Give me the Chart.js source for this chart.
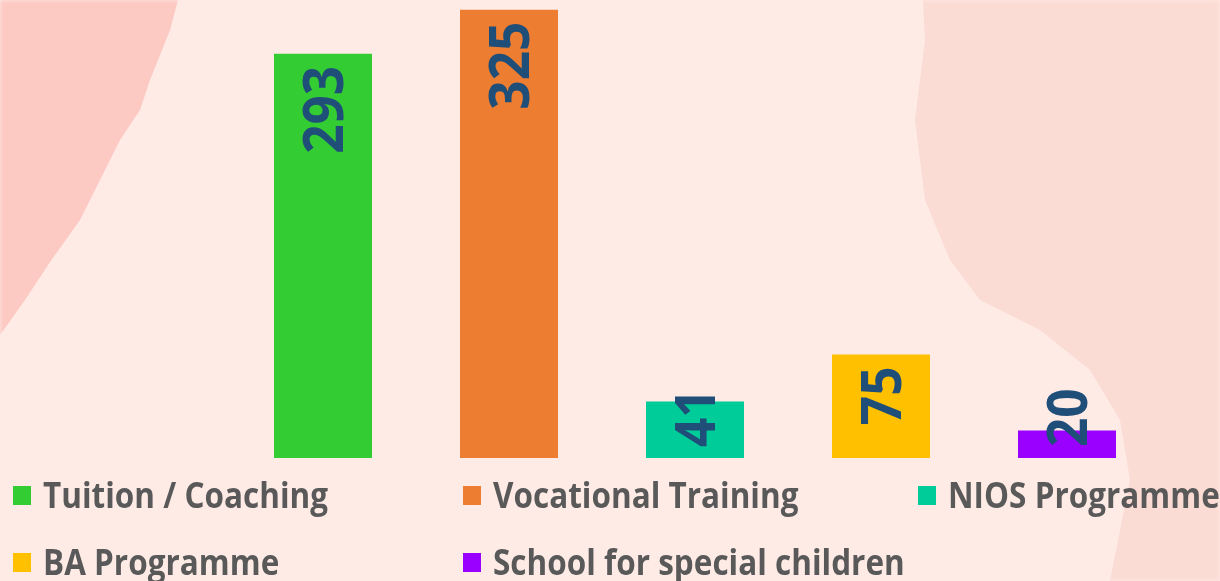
<!DOCTYPE html>
<html>
<head>
<meta charset="utf-8">
<script src="https://cdn.jsdelivr.net/npm/chart.js@4"></script>
<style>
  html, body { margin: 0; padding: 0; }
  body { width: 1220px; height: 581px; background: #FEEBE6; position: relative; overflow: hidden; }
  .brush { position: absolute; left: 0; top: 0; width: 1220px; height: 581px; filter: blur(2px); }
  #brushLeft { background: #FDC9C3; clip-path: polygon(0 0, 178px 0, 170px 30px, 150px 80px, 140px 110px, 120px 140px, 95px 190px, 80px 220px, 50px 262px, 25px 300px, 0 335px); }
  #brushRight { background: #FBDCD4; clip-path: polygon(923px 0, 1220px 0, 1220px 581px, 1110px 581px, 1130px 480px, 1120px 420px, 1090px 370px, 1040px 330px, 980px 300px, 950px 260px, 925px 200px, 915px 120px, 925px 40px); }
  #wrap { position: absolute; left: 0; top: 0; width: 1220px; height: 581px; }
</style>
</head>
<body>
<div class="brush" id="brushLeft"></div>
<div class="brush" id="brushRight"></div>
<div id="wrap"><canvas id="chart" width="1220" height="581"></canvas></div>
<script>
// ===== Dados =====
const categories = ["Tuition / Coaching", "Vocational Training", "NIOS Programme", "BA Programme", "School for special children"];
const values = [293, 325, 41, 75, 20];
const colors = ["#33CC33", "#ED7D31", "#00CC99", "#FFC000", "#9900FF"];

// legenda em grade: coluna x e linha (baseline)
const legendCols = [13, 463, 918];
const legendRows = [508, 575];

// ===== Rótulos rotacionados dentro das barras =====
const barLabels = {
  id: "barLabels",
  afterDatasetsDraw(chart) {
    const ctx = chart.ctx;
    const meta = chart.getDatasetMeta(0);
    ctx.save();
    ctx.font = "bold 56px 'Open Sans'";
    ctx.fillStyle = "#1F4E79";
    ctx.textBaseline = "alphabetic";
    ctx.textAlign = "left";
    const sx = 88 / ctx.measureText("293").width; // texto estreito como Calibri
    meta.data.forEach((bar, i) => {
      const txt = String(values[i]);
      const len = ctx.measureText(txt).width * sx;
      let top = bar.y + 12;
      let bottom = top + len;
      if (bottom > bar.base - 11) bottom = bar.base - 11;
      ctx.save();
      ctx.translate(bar.x, bottom);
      ctx.rotate(-Math.PI / 2);
      ctx.scale(sx, 1);
      ctx.fillText(txt, 0, 20);
      ctx.restore();
    });
    ctx.restore();
  }
};

// ===== Legenda desenhada no canvas =====
const gridLegend = {
  id: "gridLegend",
  afterDraw(chart) {
    const ctx = chart.ctx;
    ctx.save();
    ctx.font = "bold 35px 'Open Sans'";
    ctx.textBaseline = "alphabetic";
    const sx = 285 / ctx.measureText(categories[0]).width;
    categories.forEach((name, i) => {
      const x = legendCols[i % 3];
      const y = legendRows[Math.floor(i / 3)];
      ctx.fillStyle = colors[i];
      ctx.fillRect(x, y - 22, 18, 19);
      ctx.fillStyle = "#595959";
      ctx.save();
      ctx.translate(x + 30, y);
      ctx.scale(sx, 1);
      ctx.fillText(name, 0, 0);
      ctx.restore();
    });
    ctx.restore();
  }
};

new Chart(document.getElementById("chart"), {
  type: "bar",
  data: {
    labels: categories,
    datasets: [{ data: values, backgroundColor: colors, borderWidth: 0, categoryPercentage: 1, barPercentage: 0.527 }]
  },
  options: {
    responsive: false,
    animation: false,
    layout: { padding: { left: 230, right: 60, top: 0, bottom: 123 } },
    scales: {
      x: { display: false },
      y: { display: false, min: 0, max: 332 }
    },
    plugins: { legend: { display: false }, tooltip: { enabled: false } }
  },
  plugins: [barLabels, gridLegend]
});
</script>
</body>
</html>
